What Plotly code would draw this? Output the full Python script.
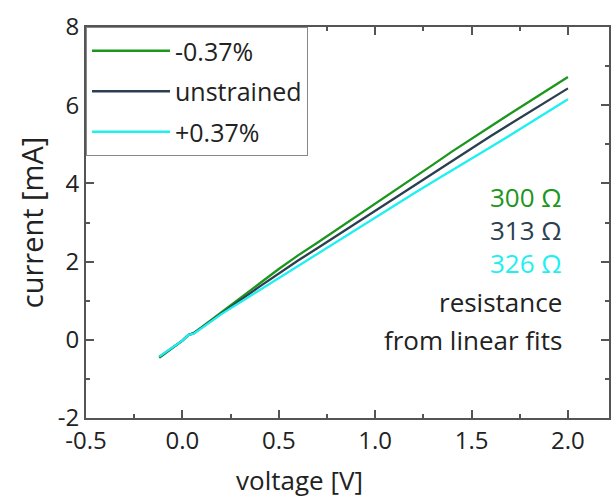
import plotly.graph_objects as go

voltage = [-0.12, -0.05, 0.0, 0.03, 0.06, 0.1, 0.2, 0.3, 0.4, 0.5, 0.6, 0.7, 0.8, 0.9,
           1.0, 1.1, 1.2, 1.3, 1.4, 1.5, 1.6, 1.7, 1.8, 1.9, 2.0]
current_compressed = [-0.46, -0.20, -0.02, 0.12, 0.18, 0.32, 0.70, 1.07, 1.44, 1.81, 2.16, 2.48,
                      2.81, 3.15, 3.48, 3.82, 4.15, 4.48, 4.82, 5.15, 5.46, 5.78, 6.10, 6.41, 6.72]
current_unstrained = [-0.44, -0.19, -0.02, 0.12, 0.17, 0.31, 0.67, 1.01, 1.36, 1.70, 2.03, 2.34,
                      2.66, 2.98, 3.31, 3.63, 3.95, 4.27, 4.58, 4.90, 5.21, 5.52, 5.82, 6.13, 6.43]
current_tensile = [-0.43, -0.19, -0.02, 0.12, 0.16, 0.30, 0.65, 0.96, 1.27, 1.58, 1.90, 2.20,
                   2.51, 2.82, 3.13, 3.44, 3.74, 4.04, 4.33, 4.63, 4.93, 5.23, 5.53, 5.84, 6.15]

series_names = ["-0.37%", "unstrained", "+0.37%"]
series_colors = ["#1c961c", "#2b3f50", "#1ef0f0"]
resistance_labels = ["300 Ω", "313 Ω", "326 Ω"]

x_ticks = [-0.5, 0.0, 0.5, 1.0, 1.5, 2.0]
x_ticklabels = ["-0.5", "0.0", "0.5", "1.0", "1.5", "2.0"]
y_ticks = [-2, 0, 2, 4, 6, 8]
y_ticklabels = ["-2", "0", "2", "4", "6", "8"]

FONT = "Open Sans"
AX = "#555555"
TXT = "#222222"

fig = go.Figure()
for i, (name, cur) in enumerate(zip(series_names,
                                    [current_compressed, current_unstrained, current_tensile])):
    fig.add_trace(go.Scatter(x=voltage, y=cur, mode="lines", name=name,
                             legendgroup=f"g{i}",
                             line=dict(color=series_colors[i], width=2.3)))

axis_common = dict(showline=True, linecolor=AX, linewidth=2, mirror="allticks",
                   ticks="inside", ticklen=8, tickwidth=1.5, tickcolor=AX,
                   showgrid=False, zeroline=False,
                   tickfont=dict(family=FONT, size=24, color=TXT))

fig.update_layout(
    width=611, height=497,
    margin=dict(l=86, r=0, t=27, b=79),
    paper_bgcolor="white", plot_bgcolor="white",
    font=dict(family=FONT, color=TXT),
    showlegend=True,
    legend=dict(x=0, y=1, xanchor="left", yanchor="top",
                bgcolor="white", bordercolor="#888888", borderwidth=1,
                font=dict(family=FONT, size=25, color=TXT),
                traceorder="grouped", tracegroupgap=5, itemwidth=78),
    xaxis=dict(range=[-0.5, 2.213], tickvals=x_ticks, ticktext=x_ticklabels,
               minor=dict(dtick=0.25, tick0=0, ticks="inside", ticklen=4, tickcolor=AX),
               **axis_common),
    yaxis=dict(range=[-2, 8], tickvals=y_ticks, ticktext=y_ticklabels,
               title=dict(text="current [mA]", font=dict(family=FONT, size=29, color=TXT),
                          standoff=6),
               minor=dict(dtick=1, tick0=0, ticks="inside", ticklen=4, tickcolor=AX),
               **axis_common),
)

fig.add_annotation(text="voltage [V]", xref="paper", yref="paper", x=(300 - 86) / 525,
                   y=-0.158, xanchor="center", yanchor="middle", showarrow=False,
                   font=dict(family=FONT, size=26, color=TXT))

ann_x = (566 - 86) / 525
ann_rows = [(resistance_labels[0], series_colors[0], 197),
            (resistance_labels[1], series_colors[1], 230),
            (resistance_labels[2], series_colors[2], 263),
            ("resistance", TXT, 302),
            ("from linear fits", TXT, 340)]
for text, color, ypx in ann_rows:
    fig.add_annotation(text=text, xref="paper", yref="paper", x=ann_x,
                       y=(418 - ypx) / 391, xanchor="right", yanchor="middle",
                       showarrow=False, font=dict(family=FONT, size=26, color=color))

fig.write_html("out.html")
